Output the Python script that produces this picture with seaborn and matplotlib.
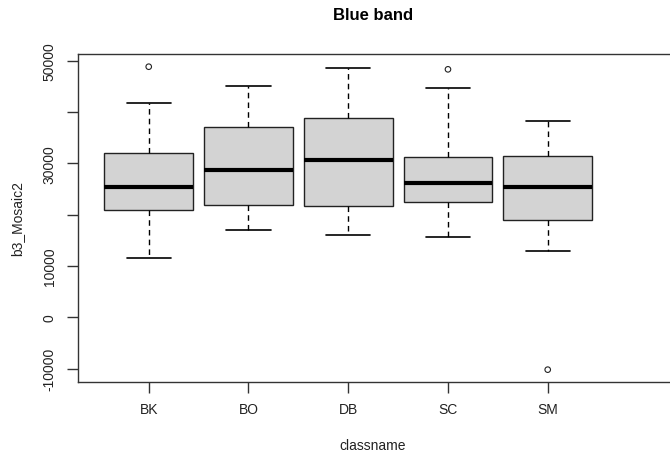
import matplotlib
matplotlib.use('Agg')
import matplotlib.pyplot as plt
import seaborn as sns
import pandas as pd
import numpy as np

# five-number summaries (whisker low, Q1, median, Q3, whisker high)
classes = ['BK', 'BO', 'DB', 'SC', 'SM']
whisker_low = [11550, 16950, 16100, 15700, 12970]
q1 = [20960, 21940, 21740, 22400, 18900]
median = [25440, 28760, 30590, 26160, 25330]
q3 = [31950, 37020, 38770, 31290, 31420]
whisker_high = [41690, 45120, 48510, 44610, 38300]

# outliers
out_class = ['BK', 'SC', 'SM']
out_value = [48820, 48310, -10200]

yticks = [-10000, 0, 10000, 20000, 30000, 40000, 50000]
ytick_labels = ['-10000', '0', '10000', '', '30000', '', '50000']

sns.set_style('ticks')
plt.rcParams['font.family'] = ['Liberation Sans', 'DejaVu Sans']

rows = []
for i, c in enumerate(classes):
    for v in (whisker_low[i], q1[i], median[i], q3[i], whisker_high[i]):
        rows.append({'classname': c, 'b3_Mosaic2': v})
df = pd.DataFrame(rows)

fig = plt.figure(figsize=(6.7, 4.52), dpi=100)
ax = fig.add_axes([77.7 / 670, (452 - 383.3) / 452, (675 - 77.7) / 670, (383.3 - 54.7) / 452])

sns.boxplot(data=df, x='classname', y='b3_Mosaic2', order=classes, ax=ax,
            whis=(0, 100), width=0.89, color='#d3d3d3', saturation=1,
            linecolor='#222222', linewidth=1.0, showfliers=False,
            medianprops=dict(color='black', linewidth=3),
            whiskerprops=dict(color='black', linestyle=(0, (4, 3)), linewidth=1),
            capprops=dict(color='black', linewidth=1.2))

# outliers as open circles
xpos = [classes.index(c) for c in out_class]
ax.scatter(xpos, out_value, s=16, facecolors='none', edgecolors='#222222',
           linewidths=0.8, zorder=5)

ax.set_xlim(-0.712, 5.276)
ax.set_ylim(-12663, 51355)
ax.set_yticks(yticks)
ax.set_yticklabels(ytick_labels)
plt.setp(ax.get_yticklabels(), rotation=90, va='center')

for side in ['left', 'top', 'bottom', 'right']:
    ax.spines[side].set_visible(True)
    ax.spines[side].set_color('#333333')
    ax.spines[side].set_linewidth(1.0)

ax.tick_params(axis='both', length=8, width=1, color='#333333', labelsize=10, labelcolor='#222222')
ax.tick_params(axis='y', pad=7)
ax.tick_params(axis='x', pad=6)

ax.set_xlabel('classname', fontsize=10, color='#222222')
ax.set_ylabel('b3_Mosaic2', fontsize=10, color='#222222')
ax.xaxis.set_label_coords((373 - 77.7) / 597.3, -0.17)
ax.yaxis.set_label_coords(-0.09, 0.5)

fig.text(373 / 670, 1 - 15 / 452, 'Blue band', ha='center', va='center',
         fontsize=12, fontweight='bold', color='black')

fig.savefig('out.png', dpi=100)
plt.close(fig)
